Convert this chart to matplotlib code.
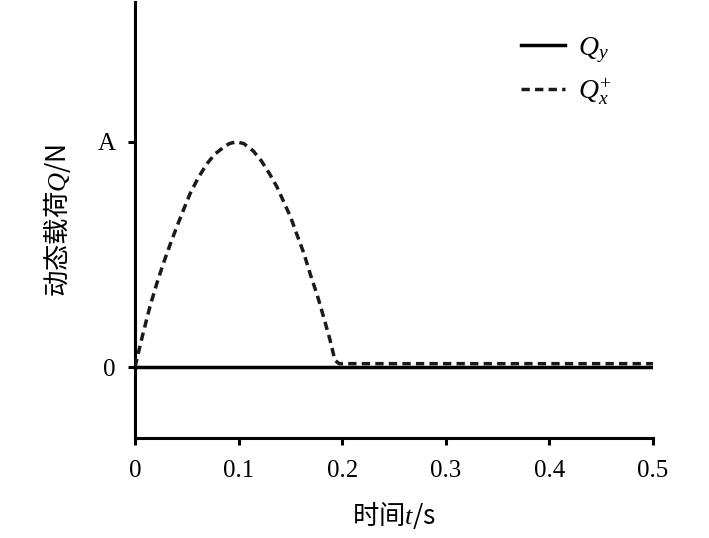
import matplotlib

matplotlib.use("Agg")
import matplotlib.pyplot as plt

plt.rcParams["font.family"] = ["Liberation Serif", "Noto Sans CJK SC"]
plt.rcParams["mathtext.fontset"] = "custom"
plt.rcParams["mathtext.it"] = "Liberation Serif:italic"
plt.rcParams["mathtext.rm"] = "Liberation Serif"
plt.rcParams["axes.unicode_minus"] = False

# Q_y: stays at zero for the whole time span
t_qy = [0.0, 0.5]
q_y = [0.0, 0.0]

# Q_x^+: half-wave pulse (A = 1)
t_qx = [0.0, 0.007, 0.0145, 0.021, 0.0273, 0.034, 0.0402, 0.047, 0.0531, 0.061,
        0.0692, 0.077, 0.0853, 0.091, 0.098, 0.105, 0.114, 0.122, 0.130, 0.137,
        0.143, 0.150, 0.156, 0.163, 0.169, 0.176, 0.182, 0.188, 0.193, 0.197, 0.5]
q_x = [0.0, 0.135, 0.270, 0.370, 0.459, 0.545, 0.621, 0.700, 0.769, 0.840,
       0.901, 0.945, 0.975, 0.992, 1.0, 0.992, 0.960, 0.915, 0.857, 0.800,
       0.739, 0.668, 0.592, 0.505, 0.415, 0.318, 0.223, 0.125, 0.03, 0.015, 0.015]

x_ticks = [0, 0.1, 0.2, 0.3, 0.4, 0.5]
x_tick_labels = ["0", "0.1", "0.2", "0.3", "0.4", "0.5"]
y_ticks = [0, 1]
y_tick_labels = ["0", "A"]

fig = plt.figure(figsize=(7.09, 5.38), dpi=100)
ax = fig.add_axes([0.1904, 0.1859, 0.7306, 0.8101])

ax.plot(t_qy, q_y, color="black", linewidth=2.5, label="$Q_y$", zorder=3)
ax.plot(t_qx, q_x, color="#1a1a1a", linewidth=2.5, linestyle=(0, (2.4, 1.5)),
        label="$Q_x^{+}$", zorder=4)

ax.set_xlim(0, 0.5)
ax.set_ylim(-0.315, 1.62)
ax.set_xticks(x_ticks)
ax.set_xticklabels(x_tick_labels)
ax.set_yticks(y_ticks)
ax.set_yticklabels(y_tick_labels)

for side in ["top", "right"]:
    ax.spines[side].set_visible(False)
for side in ["left", "bottom"]:
    ax.spines[side].set_linewidth(2.2)
ax.tick_params(axis="both", direction="out", length=5, width=2.2, labelsize=18)
ax.tick_params(axis="x", pad=11)
ax.tick_params(axis="y", pad=9)

# the CJK font carries the plain part of the mixed strings, Q stays serif italic
ax.set_xlabel("时间$t$/s", fontsize=19, family="Noto Sans CJK SC", labelpad=12)
ax.set_ylabel("动态载荷$Q$/N", fontsize=19, family="Noto Sans CJK SC", labelpad=18)

ax.legend(loc="upper right", bbox_to_anchor=(0.968, 0.982), frameon=False, fontsize=20,
          handlelength=1.6, handletextpad=0.45, labelspacing=0.42)

fig.savefig("out.png", dpi=100)
plt.close(fig)
